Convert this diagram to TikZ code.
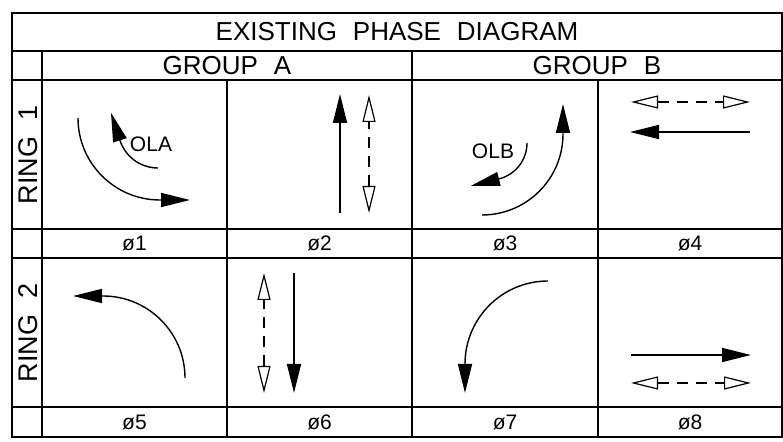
\documentclass[tikz,border=0pt]{standalone}
\usepackage{fontspec}
\setmainfont{Liberation Sans}[WordSpace=2.2]
\usetikzlibrary{arrows.meta}
\begin{document}
\begin{tikzpicture}[x=1pt,y=1pt,
  grid/.style={line width=1.8pt},
  arw/.style={line width=1.4pt},
  fullhead/.style={arw,-{Triangle[length=29pt,width=14pt]}},
  openhead/.style={arw,dash pattern=on 11pt off 8pt,
    {Triangle[open,length=27pt,width=13pt,line width=1.2pt]}-{Triangle[open,length=27pt,width=13pt,line width=1.2pt]}},
  lbl/.style={inner sep=0pt,text depth=0pt,anchor=center},
  big/.style={lbl,text height=18.6pt,font=\fontsize{26}{26}\selectfont},
  ringlbl/.style={lbl,text height=19.3pt,font=\fontsize{27}{27}\selectfont},
  small/.style={lbl,text height=15pt,font=\fontsize{21}{21}\selectfont}]
\useasboundingbox (0,0) rectangle (783,441);
% grid
\draw[grid] (12,4) rectangle (782,428);
\draw[grid] (12,390) -- (782,390);
\draw[grid] (12,361) -- (782,361);
\draw[grid] (12,212) -- (782,212);
\draw[grid] (12,183) -- (782,183);
\draw[grid] (12,34) -- (782,34);
\draw[grid] (42,390) -- (42,4);
\draw[grid] (412,390) -- (412,4);
\draw[grid] (227,361) -- (227,4);
\draw[grid] (598,361) -- (598,4);
% texts
\node[big] (title) at (397,409.5) {EXISTING PHASE DIAGRAM};
\node[big] (grpa) at (227,375.5) {GROUP A};
\node[big] (grpb) at (597,375.5) {GROUP B};
\node[ringlbl,rotate=90] (ring1) at (27.5,286.5) {RING 1};
\node[ringlbl,rotate=90] (ring2) at (27.5,108.5) {RING 2};
\node[small] (p1) at (134.5,197.5) {ø1};
\node[small] (p2) at (319.5,197.5) {ø2};
\node[small] (p3) at (505,197.5) {ø3};
\node[small] (p4) at (690,197.5) {ø4};
\node[small] (p5) at (134.5,19) {ø5};
\node[small] (p6) at (319.5,19) {ø6};
\node[small] (p7) at (505,19) {ø7};
\node[small] (p8) at (690,19) {ø8};
\node[small] (ola) at (151,297) {OLA};
\node[small] (olb) at (493,290) {OLB};
% phase 1
\draw[fullhead] (78,323) arc[start angle=180,end angle=270,radius=82] -- (190,241);
\draw[fullhead] (158,273) arc[start angle=270,end angle=198,radius=40] -- ++(108:29);
% phase 2
\draw[fullhead] (340,228) -- (340,347);
\draw[openhead] (369,228) -- (369,346);
% phase 3
\draw[fullhead] (482,226) arc[start angle=270,end angle=360,radius=81] -- (563,337);
\draw[fullhead] (527,298) arc[start angle=0,end angle=-76,radius=37] -- ++(194:29);
% phase 4
\draw[openhead] (631,339) -- (750,339);
\draw[fullhead] (750,309) -- (630,309);
% phase 5
\draw[fullhead] (185,63) arc[start angle=0,end angle=90,radius=82] -- (73,145);
% phase 6
\draw[openhead] (264,48) -- (264,168);
\draw[fullhead] (294,168) -- (294,48);
% phase 7
\draw[fullhead] (548,160) arc[start angle=90,end angle=180,radius=83] -- (465,48);
% phase 8
\draw[fullhead] (631,86) -- (751,86);
\draw[openhead] (631,58) -- (751,58);
\end{tikzpicture}
\end{document}
